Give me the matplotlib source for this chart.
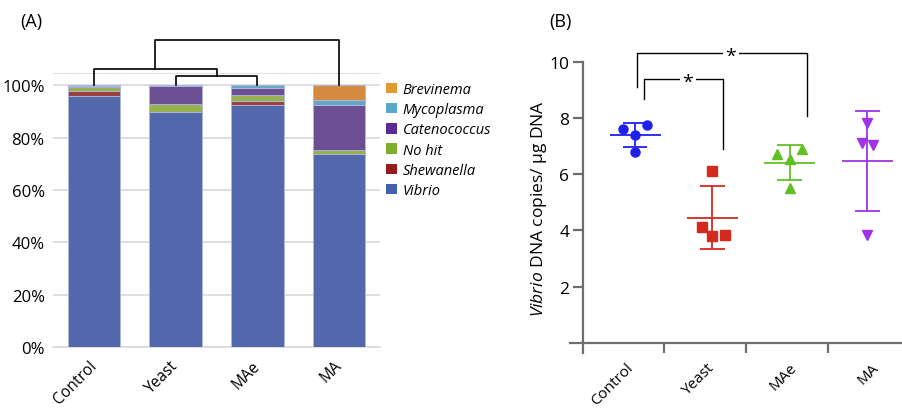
import matplotlib
matplotlib.use("Agg")
import matplotlib.pyplot as plt
from matplotlib.patches import Patch
import matplotlib.transforms as mtransforms
import numpy as np

plt.rcParams['font.family'] = ['Open Sans', 'DejaVu Sans']
plt.rcParams['mathtext.fontset'] = 'custom'
plt.rcParams['mathtext.it'] = 'Open Sans:italic'
plt.rcParams['mathtext.rm'] = 'Open Sans'

# ---- panel A data: relative abundance (%) per treatment ----
groups = ["Control", "Yeast", "MAe", "MA"]
taxa = ["Vibrio", "Shewanella", "No hit", "Catenococcus", "Mycoplasma", "Brevinema"]
vibrio = [96.0, 89.7, 92.5, 73.8]
shewanella = [1.7, 0.0, 1.4, 0.0]
no_hit = [1.6, 3.0, 2.5, 1.4]
catenococcus = [0.5, 6.8, 2.7, 17.4]
mycoplasma = [0.2, 0.5, 0.9, 1.8]
brevinema = [0.0, 0.0, 0.0, 5.6]
bar_colors = ["#5469ad", "#9c3f3f", "#97b14f", "#6b4f92", "#64a7c4", "#d48a40"]
legend_colors = ["#4262ab", "#981c1c", "#7daf2b", "#5b2a92", "#57a9c4", "#e09a30"]

# dendrogram merge heights (%)
merge_ym = 103.4      # Yeast + MAe
merge_cym = 106.1     # Control + (Yeast, MAe)
merge_all = 117.2     # all with MA

# ---- panel B data: Vibrio DNA copies / ug DNA ----
b_labels = ["Control", "Yeast", "MAe", "MA"]
control_pts = [7.63, 7.40, 7.77, 6.78]
yeast_pts = [6.12, 4.11, 3.79, 3.82]
mae_pts = [6.74, 6.53, 6.89, 5.51]
ma_pts = [7.84, 7.11, 7.04, 3.84]
jitter = [[-0.15, 0.0, 0.16, 0.0],
          [0.0, -0.14, 0.0, 0.16],
          [-0.16, 0.0, 0.16, 0.0],
          [0.0, -0.07, 0.08, 0.0]]
b_colors = ["#2020ee", "#d42a1e", "#62c025", "#a033e6"]
b_markers = ["o", "s", "^", "v"]
# category slot boundaries on the x axis of panel B (GraphPad-style ticks)
slot_edges = [-0.67, 0.375, 1.44, 2.5]

fig = plt.figure(figsize=(9.02, 4.10), dpi=100)

# ================= Panel A =================
axA = fig.add_axes([0.0588, 0.1512, 0.3625, 0.668])
series = [vibrio, shewanella, no_hit, catenococcus, mycoplasma, brevinema]
x = np.arange(len(groups))
bottom = np.zeros(len(groups))
for vals, col in zip(series, bar_colors):
    axA.bar(x, vals, bottom=bottom, width=0.64, color=col,
            edgecolor="#aeb8dc", linewidth=0.6, zorder=3)
    bottom += np.array(vals)

axA.set_xlim(-0.5, 3.5)
axA.set_ylim(0, 104.6)
axA.set_yticks(np.arange(0, 101, 20))
axA.set_yticklabels([f"{v}%" for v in range(0, 101, 20)], fontsize=12)
axA.yaxis.grid(True, color="#d9d9d9", linewidth=1.2, zorder=0)
axA.set_axisbelow(True)
for s in ["left", "right"]:
    axA.spines[s].set_visible(False)
axA.spines["top"].set_color("#e3e3e3")
axA.spines["bottom"].set_color("#d9d9d9")
axA.spines["bottom"].set_linewidth(1.2)
axA.tick_params(axis="y", length=0, pad=6)
axA.tick_params(axis="x", length=0, pad=13.5)
axA.set_xticks(x)
axA.set_xticklabels(groups, fontsize=11.2, rotation=45, ha="right",
                    va="baseline", rotation_mode="anchor")
off = mtransforms.ScaledTranslation(3 / 100, 0, fig.dpi_scale_trans)
for lab in axA.get_xticklabels():
    lab.set_transform(lab.get_transform() + off)

# dendrogram
dk = dict(color="black", lw=1.2, clip_on=False, zorder=4)
axA.plot([1, 1, 2, 2], [100, merge_ym, merge_ym, 100], **dk)
axA.plot([0, 0, 1.5, 1.5], [100, merge_cym, merge_cym, merge_ym], **dk)
axA.plot([0.75, 0.75, 3, 3], [merge_cym, merge_all, merge_all, 100], **dk)

handles = [Patch(facecolor=c) for c in legend_colors[::-1]]
leg = axA.legend(handles, taxa[::-1], loc="upper left",
                 bbox_to_anchor=(0.987, 1.005), frameon=False,
                 prop={"style": "italic", "size": 10.5},
                 handlelength=0.75, handleheight=0.75, handletextpad=0.4,
                 labelspacing=0.36, borderaxespad=0.3)

fig.text(20 / 902, 1 - 22 / 410, "(A)", fontsize=13, va="center")

# ================= Panel B =================
axB = fig.add_axes([0.632, 0.1378, 0.368, 0.7085])
axB.set_xlim(-0.84, 3.45)
axB.set_ylim(-0.35, 10)
spine_col = "#6e6e6e"
for s in ["top", "right"]:
    axB.spines[s].set_visible(False)
axB.spines["left"].set_position(("data", slot_edges[0]))
axB.spines["bottom"].set_position(("data", 0))
for s in ["left", "bottom"]:
    axB.spines[s].set_color(spine_col)
    axB.spines[s].set_linewidth(1.6)

axB.set_yticks([2, 4, 6, 8, 10])
axB.set_yticklabels(["2", "4", "6", "8", "10"], fontsize=12.5)
axB.tick_params(axis="y", length=7, width=1.6, color=spine_col, pad=3)
axB.set_xticks([e + 0.65 for e in slot_edges])
axB.set_xticklabels(b_labels, fontsize=11, rotation=45, ha="right",
                    va="baseline", rotation_mode="anchor")
axB.tick_params(axis="x", which="major", length=0, pad=18)
axB.set_xticks(slot_edges[1:], minor=True)
axB.tick_params(axis="x", which="minor", length=7, width=1.6, color=spine_col)

all_pts = [control_pts, yeast_pts, mae_pts, ma_pts]
for i, (pts, jit, col, mk) in enumerate(zip(all_pts, jitter, b_colors, b_markers)):
    pts = np.array(pts)
    m = pts.mean()
    sd = pts.std(ddof=1)
    axB.plot(i + np.array(jit), pts, linestyle="none", marker=mk,
             markersize=6.5, color=col, zorder=3)
    axB.hlines(m, i - 0.33, i + 0.33, color=col, lw=1.3)
    axB.vlines(i, m - sd, m + sd, color=col, lw=1.3)
    axB.hlines([m - sd, m + sd], i - 0.16, i + 0.16, color=col, lw=1.3)

axB.set_ylabel("$\\it{Vibrio}$ DNA copies/ µg DNA", fontsize=12.5, labelpad=0)

# significance brackets
bk = dict(color="black", lw=1.0, clip_on=False)
axB.plot([0.116, 0.116, 1.135, 1.135], [8.70, 9.41, 9.41, 6.89], **bk)
axB.plot([0.022, 0.022, 2.225, 2.225], [9.12, 10.33, 10.33, 8.06], **bk)
for xs, ys in [(0.68, 9.41), (1.24, 10.33)]:
    axB.text(xs, ys - 0.12, "*", fontsize=14, ha="center", va="center",
             bbox=dict(facecolor="white", edgecolor="none", pad=2),
             clip_on=False)

fig.text(549 / 902, 1 - 22 / 410, "(B)", fontsize=13, va="center")

fig.savefig("out.png", dpi=100)
